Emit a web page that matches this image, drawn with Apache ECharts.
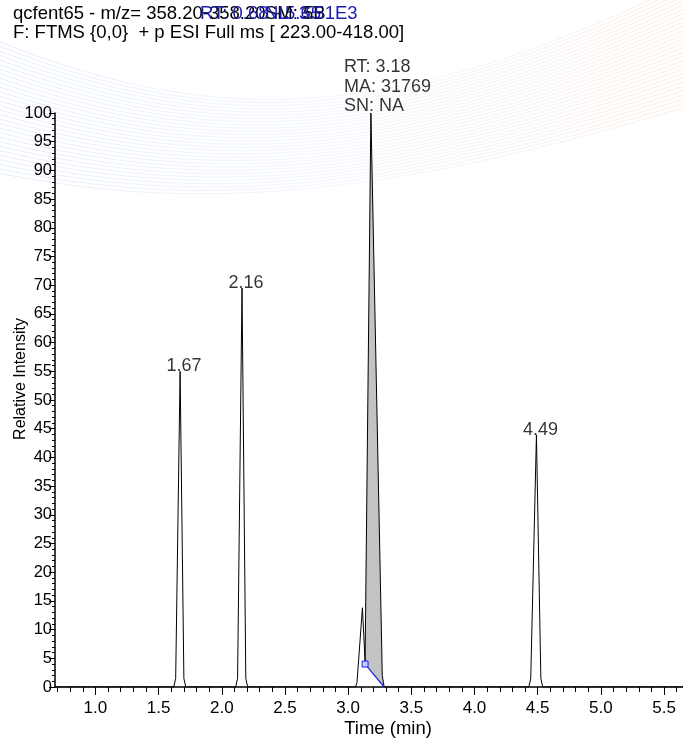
<!DOCTYPE html>
<html>
<head>
<meta charset="utf-8">
<script src="https://cdn.jsdelivr.net/npm/echarts@6/dist/echarts.min.js"></script>
<style>
  html, body { margin: 0; padding: 0; background: #ffffff; }
  #chart { width: 683px; height: 741px; }
</style>
</head>
<body>
<div id="chart"></div>
<script>
// Extracted ion chromatogram, m/z 358.20
const times = [0.68, 1.62, 1.635, 1.67, 1.70, 1.715, 2.11, 2.125, 2.16, 2.19, 2.205,
  3.058, 3.07, 3.113, 3.134, 3.18, 3.255, 3.27, 3.285, 4.43, 4.445, 4.49, 4.525, 4.54, 5.65];
const intensity = [0, 0, 1.5, 55, 1.5, 0, 0, 1.5, 69.5, 1.5, 0,
  0, 0.8, 13.8, 4.4, 100, 18.6, 2, 0, 0, 1.5, 43.9, 1.5, 0, 0];

// Labelled peak apexes
const peakRT = [1.67, 2.16, 4.49];
const peakHeight = [55, 69.5, 43.9];

// Integrated peak (RT / area / signal-to-noise) and its baseline
const mainRT = 3.18;
const mainHeight = 100;
const mainArea = 31769;
const mainSN = 'NA';
const baselineStart = [3.134, 4.0];
const baselineEnd = [3.285, 0];

// Axis tick labels
const xTickLabels = [1.0, 1.5, 2.0, 2.5, 3.0, 3.5, 4.0, 4.5, 5.0, 5.5];
const xMin = 0.68, xMax = 5.65;

const headerBlack = 'qcfent65 - m/z= 358.20-358.20';
const headerBlue = 'RT: 0.68 - 5.65';
const headerSM = 'SM: 5B';
const headerNL = 'NL: 3.51E3';
const headerScan = 'F: FTMS {0,0}  + p ESI Full ms [ 223.00-418.00]';

const FONT = '"Liberation Sans", Arial, Helvetica, sans-serif';

const xMinorTicks = [];
for (let v = 7; v <= 56; v++) xMinorTicks.push(v / 10);

const chromData = times.map((t, i) => [t, intensity[i]]);

// Decorative background swoosh of fine lines
const swoosh = [];
for (let i = 0; i < 30; i++) {
  swoosh.push({
    type: 'bezierCurve',
    silent: true,
    z: -10,
    shape: {
      x1: -10, y1: 38 + i * 4.6,
      cpx1: 170, cpy1: 110 + i * 3.4,
      cpx2: 360, cpy2: 150 + i * 2.0,
      x2: 700, y2: -25 + i * 4.4
    },
    style: {
      fill: null,
      lineWidth: 1,
      stroke: {
        type: 'linear', x: 0, y: 0, x2: 1, y2: 0,
        colorStops: [
          { offset: 0, color: 'rgba(120,160,230,0.20)' },
          { offset: 0.5, color: 'rgba(160,190,240,0.14)' },
          { offset: 1, color: 'rgba(250,170,110,0.22)' }
        ]
      }
    }
  });
}

const chart = echarts.init(document.getElementById('chart'), null, { renderer: 'canvas' });

const txt = (x, y, text, color, size) => ({
  type: 'text', x: x, y: y, z: 10,
  style: { text: text, fill: color, font: (size || 18.5) + 'px ' + FONT, textVerticalAlign: 'top' }
});

chart.setOption({
  backgroundColor: '#ffffff',
  animation: false,
  textStyle: { fontFamily: FONT },
  graphic: swoosh.concat([
    txt(13, 4, headerBlack, '#000000'),
    txt(200, 4, headerBlue, '#1c1cb0'),
    txt(265, 4, headerSM, '#000000'),
    txt(265, 4, headerNL, '#1c1cb0'),
    txt(13, 23, headerScan, '#000000'),
    {
      type: 'text', x: 388, y: 729, z: 10,
      style: { text: 'Time (min)', fill: '#000', font: '18.5px ' + FONT, align: 'center', verticalAlign: 'middle' }
    },
    {
      type: 'text', x: 21, y: 379, rotation: Math.PI / 2, z: 10,
      style: { text: 'Relative Intensity', fill: '#000', font: '16px ' + FONT, align: 'center', verticalAlign: 'middle' }
    }
  ]),
  grid: { left: 55, right: 0, top: 113, bottom: 54, containLabel: false, outerBoundsMode: 'none' },
  xAxis: [
    {
      type: 'value', min: xMin, max: xMax,
      axisLine: { show: true, onZero: false, lineStyle: { color: '#000', width: 1.6 } },
      axisTick: { show: true, customValues: xTickLabels, length: 8, lineStyle: { color: '#000', width: 1 } },
      axisLabel: { show: true, customValues: xTickLabels, color: '#000', fontSize: 17, margin: 13,
        formatter: v => v.toFixed(1) },
      splitLine: { show: false }
    },
    {
      type: 'value', min: xMin, max: xMax, position: 'bottom',
      axisLine: { show: false },
      axisTick: { show: true, customValues: xMinorTicks, length: 5, lineStyle: { color: '#000', width: 1 } },
      axisLabel: { show: false },
      splitLine: { show: false }
    }
  ],
  yAxis: [
    {
      type: 'value', min: 0, max: 100, interval: 5,
      axisLine: { show: true, onZero: false, lineStyle: { color: '#000', width: 1.5 } },
      axisTick: { show: true, length: 6, lineStyle: { color: '#000', width: 1 } },
      minorTick: { show: true, splitNumber: 5, length: 3, lineStyle: { color: '#000', width: 1 } },
      axisLabel: { color: '#000', fontSize: 16.5, margin: 3 },
      splitLine: { show: false },
      minorSplitLine: { show: false }
    }
  ],
  series: [
    {
      // integrated area of the main peak, closed by its baseline
      type: 'custom',
      xAxisIndex: 0, yAxisIndex: 0,
      data: [[mainRT, mainHeight]],
      z: 1,
      renderItem: function (params, api) {
        const pts = [api.coord(baselineStart)];
        chromData.forEach(p => {
          if (p[0] >= baselineStart[0] && p[0] <= baselineEnd[0]) pts.push(api.coord(p));
        });
        pts.push(api.coord(baselineEnd));
        return {
          type: 'polygon',
          shape: { points: pts },
          style: { fill: '#c3c3c3', stroke: null }
        };
      }
    },
    {
      type: 'line',
      data: chromData,
      showSymbol: false,
      z: 3,
      lineStyle: { color: '#000', width: 1 }
    },
    {
      type: 'line',
      z: 4,
      data: [
        { value: baselineStart, symbol: 'rect', symbolSize: 6 },
        { value: baselineEnd, symbol: 'none' }
      ],
      showSymbol: true,
      itemStyle: { color: '#c8c8ff', borderColor: '#2020ff', borderWidth: 1 },
      lineStyle: { color: '#2020ff', width: 1.2 }
    },
    {
      type: 'scatter',
      z: 5,
      symbolSize: 0,
      data: peakRT.map((t, i) => [t, peakHeight[i]]),
      label: {
        show: true, position: 'top', distance: 0, offset: [4, 4],
        color: '#000', fontSize: 18, fontFamily: FONT,
        formatter: p => p.value[0].toFixed(2)
      }
    },
    {
      type: 'scatter',
      z: 5,
      symbolSize: 0,
      data: [[mainRT, mainHeight]],
      label: {
        show: true, position: 'top', align: 'left', distance: 0, offset: [-27, 3],
        color: '#000', fontSize: 18, fontFamily: FONT, lineHeight: 19.5,
        formatter: () => 'RT: ' + mainRT.toFixed(2) + '\nMA: ' + mainArea + '\nSN: ' + mainSN
      }
    }
  ]
});
</script>
</body>
</html>
